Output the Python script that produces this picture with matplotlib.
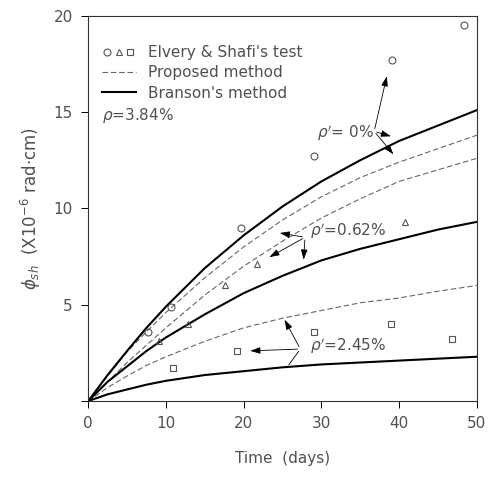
import matplotlib
matplotlib.use("Agg")
import matplotlib.pyplot as plt
from matplotlib.lines import Line2D
from matplotlib.legend_handler import HandlerTuple

# curve sampling times (days)
t = [0, 2.5, 5, 7.5, 10, 15, 20, 25, 30, 35, 40, 45, 50]

# Branson's method
branson_0 = [0, 1.35, 2.6, 3.8, 4.9, 6.9, 8.6, 10.1, 11.4, 12.5, 13.5, 14.3, 15.1]
branson_062 = [0, 1.0, 1.8, 2.6, 3.3, 4.5, 5.6, 6.5, 7.3, 7.9, 8.4, 8.9, 9.3]
branson_245 = [0, 0.35, 0.6, 0.85, 1.05, 1.35, 1.55, 1.75, 1.9, 2.0, 2.1, 2.2, 2.3]

# proposed method
proposed_0 = [0, 1.3, 2.55, 3.6, 4.6, 6.4, 8.0, 9.4, 10.6, 11.6, 12.4, 13.1, 13.8]
proposed_062 = [0, 1.0, 2.0, 2.9, 3.8, 5.5, 7.0, 8.3, 9.5, 10.5, 11.4, 12.0, 12.6]
proposed_245 = [0, 0.7, 1.3, 1.85, 2.3, 3.1, 3.8, 4.3, 4.7, 5.1, 5.35, 5.7, 6.0]

# Elvery & Shafi's test results
circ_t = [7.7, 10.6, 19.6, 29.0, 39.1, 48.3]
circ_y = [3.6, 4.9, 9.0, 12.7, 17.7, 19.5]
tri_t = [9.1, 12.9, 17.6, 21.7, 40.8]
tri_y = [3.1, 4.0, 6.0, 7.1, 9.3]
sq_t = [10.9, 19.2, 29.1, 38.9, 46.8]
sq_y = [1.7, 2.6, 3.6, 4.0, 3.2]

txt = "#505050"
plt.rcParams["font.family"] = ["DejaVu Sans"]

fig = plt.figure(figsize=(4.9, 4.78), dpi=100)
ax = fig.add_axes([0.18, 0.161, 0.793, 0.806])

dash = (0, (5, 2.5))
for ys in (proposed_0, proposed_062, proposed_245):
    ax.plot(t, ys, color="#666666", lw=0.8, linestyle=dash)
for ys in (branson_0, branson_062, branson_245):
    ax.plot(t, ys, color="black", lw=1.5)

mk = dict(linestyle="none", mfc="none", mec="#555555", mew=0.8, ms=5)
ax.plot(circ_t, circ_y, marker="o", **mk)
ax.plot(tri_t, tri_y, marker="^", **mk)
ax.plot(sq_t, sq_y, marker="s", **mk)

# labels with pointer arrows
arrow = dict(arrowstyle="-|>,head_length=0.6,head_width=0.2", color="black", lw=0.6)
line = dict(arrowstyle="-", color="black", lw=0.6)

ax.text(29.5, 13.9, r"$\rho'$= 0%", fontsize=11, color=txt, va="center")
ax.annotate("", xy=(38.5, 17.0), xytext=(36.8, 14.0), arrowprops=arrow)
ax.annotate("", xy=(39.3, 13.7), xytext=(36.8, 14.0), arrowprops=arrow)
ax.annotate("", xy=(39.5, 12.7), xytext=(36.8, 14.0), arrowprops=arrow)

ax.text(28.5, 8.8, r"$\rho'$=0.62%", fontsize=11, color=txt, va="center")
ax.annotate("", xy=(24.3, 8.75), xytext=(27.9, 8.5), arrowprops=arrow)
ax.annotate("", xy=(27.7, 7.2), xytext=(27.9, 8.5), arrowprops=arrow)
ax.annotate("", xy=(23.0, 7.4), xytext=(27.9, 8.5), arrowprops=arrow)

ax.text(28.5, 2.85, r"$\rho'$=2.45%", fontsize=11, color=txt, va="center")
ax.annotate("", xy=(20.5, 2.6), xytext=(27.3, 2.7), arrowprops=arrow)
ax.annotate("", xy=(25.1, 4.35), xytext=(27.3, 2.7), arrowprops=arrow)
ax.annotate("", xy=(25.6, 1.76), xytext=(27.3, 2.7), arrowprops=line)

ax.text(1.8, 14.8, r"$\rho$=3.84%", fontsize=11, color=txt, va="center")

h_test = (Line2D([], [], marker="o", **mk),
          Line2D([], [], marker="^", **mk),
          Line2D([], [], marker="s", **mk))
h_prop = Line2D([], [], color="#666666", lw=0.8, linestyle=dash)
h_bran = Line2D([], [], color="black", lw=1.5)
leg = ax.legend([h_test, h_prop, h_bran],
                ["Elvery & Shafi's test", "Proposed method", "Branson's method"],
                handler_map={tuple: HandlerTuple(ndivide=None, pad=0.1)},
                loc="upper left", frameon=False, fontsize=11,
                handlelength=2.2, handletextpad=0.8, labelspacing=0.35,
                borderaxespad=0.5, bbox_to_anchor=(0.0, 0.96))
for tx in leg.get_texts():
    tx.set_color(txt)

ax.set_xlim(0, 50)
ax.set_ylim(0, 20)
ax.set_xticks([0, 10, 20, 30, 40, 50])
ax.set_yticks([0, 5, 10, 15, 20])
ax.set_yticklabels(["", "5", "10", "15", "20"])
ax.tick_params(direction="out", length=5, width=0.7, labelsize=11,
               labelcolor=txt, pad=6)
for s in ax.spines.values():
    s.set_linewidth(0.8)
    s.set_color("#333333")

ax.set_xlabel("Time  (days)", fontsize=11, color=txt, labelpad=14)
ax.set_ylabel(r"$\phi_{sh}$  (X10$^{-6}$ rad$\cdot$cm)", fontsize=12,
              color=txt, labelpad=8)

fig.savefig("out.png", dpi=100)
